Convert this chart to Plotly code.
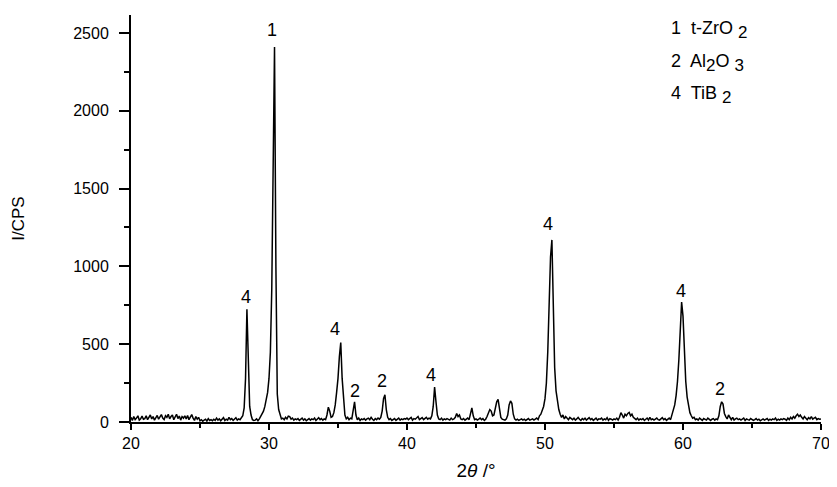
import numpy as np
import plotly.graph_objects as go

# 2theta grid: 20.0 .. 70.0 in 0.1 degree steps
two_theta_start = 20.0
two_theta_step = 0.1

# Intensity (CPS), one row per degree (x.0 ... x.9)
intensity = [
    30, 10, 35, 15, 25, 40, 12, 20, 38, 18,        # 20
    22, 40, 15, 30, 45, 20, 35, 12, 28, 42,        # 21
    18, 30, 48, 25, 15, 40, 30, 50, 20, 35,        # 22
    45, 15, 30, 50, 22, 38, 12, 35, 25, 40,        # 23
    20, 42, 15, 30, 48, 25, 10, 35, 18, 30,        # 24
    8, 15, 5, 12, 18, 6, 22, 10, 15, 8,            # 25
    18, 10, 25, 12, 20, 8, 15, 28, 10, 18,         # 26
    12, 30, 15, 22, 10, 18, 28, 12, 20, 15,        # 27
    25, 40, 90, 280, 725, 320, 100, 45, 15, 10,    # 28
    12, 20, 8, 20, 35, 50, 70, 100, 140, 190,      # 29
    280, 450, 850, 1500, 2410, 1000, 180, 80, 40, 20,  # 30
    25, 15, 30, 20, 38, 35, 18, 25, 12, 20,        # 31
    15, 22, 10, 18, 25, 12, 20, 8, 15, 22,         # 32
    12, 20, 15, 25, 10, 18, 28, 15, 22, 12,        # 33
    20, 15, 45, 95, 70, 30, 35, 60, 110, 190,      # 34
    280, 420, 510, 280, 140, 45, 20, 30, 15, 25,   # 35
    20, 70, 130, 45, 15, 25, 10, 20, 15, 22,       # 36
    12, 20, 25, 15, 30, 18, 10, 22, 15, 25,        # 37
    18, 30, 70, 150, 175, 80, 30, 15, 22, 10,      # 38
    15, 22, 10, 18, 25, 12, 20, 15, 22, 18,        # 39
    25, 15, 20, 30, 12, 22, 18, 25, 35, 15,        # 40
    20, 28, 15, 22, 30, 18, 25, 20, 40, 100,       # 41
    225, 130, 45, 20, 15, 25, 12, 20, 15, 22,      # 42
    18, 12, 25, 15, 20, 30, 55, 35, 45, 20,        # 43
    15, 22, 12, 18, 25, 15, 50, 90, 40, 15,        # 44
    20, 12, 18, 25, 15, 22, 10, 18, 35, 55,        # 45
    80, 70, 40, 45, 80, 130, 145, 75, 30, 18,      # 46
    15, 12, 20, 45, 110, 135, 120, 50, 20, 12,     # 47
    18, 10, 15, 20, 12, 18, 10, 15, 22, 12,        # 48
    15, 20, 12, 18, 25, 15, 40, 50, 70, 100,       # 49
    150, 250, 450, 800, 1060, 1170, 750, 350, 200, 130,  # 50
    80, 50, 30, 45, 20, 35, 25, 15, 30, 20,        # 51
    15, 25, 12, 20, 30, 18, 10, 22, 15, 25,        # 52
    12, 20, 28, 15, 22, 10, 18, 25, 12, 20,        # 53
    18, 25, 12, 20, 15, 28, 10, 22, 18, 12,        # 54
    20, 15, 25, 12, 30, 60, 45, 25, 50, 40,        # 55
    55, 62, 40, 50, 30, 20, 15, 25, 12, 20,        # 56
    15, 22, 10, 18, 25, 12, 30, 15, 20, 12,        # 57
    18, 25, 15, 12, 20, 28, 15, 22, 10, 18,        # 58
    25, 15, 50, 70, 110, 170, 260, 400, 580, 770,  # 59
    680, 420, 260, 160, 100, 60, 40, 25, 30, 15,   # 60
    20, 12, 25, 15, 10, 22, 18, 12, 25, 15,        # 61
    10, 18, 22, 12, 20, 15, 40, 100, 130, 115,     # 62
    55, 35, 20, 45, 25, 15, 30, 12, 20, 25,        # 63
    15, 20, 12, 18, 25, 10, 20, 15, 12, 22,        # 64
    18, 10, 15, 22, 12, 18, 8, 15, 20, 12,         # 65
    15, 22, 10, 18, 12, 20, 15, 25, 10, 18,        # 66
    12, 20, 15, 22, 18, 10, 25, 15, 30, 20,        # 67
    35, 25, 40, 50, 35, 45, 30, 20, 35, 25,        # 68
    15, 28, 20, 35, 18, 25, 30, 15, 22, 18,        # 69
    20,                                            # 70
]
two_theta = np.round(two_theta_start + two_theta_step * np.arange(len(intensity)), 2)

# Peak labels: phase number, label position (2theta, CPS)
peak_label_text = ["4", "1", "4", "2", "2", "4", "4", "4", "2"]
peak_label_x = [28.36, 30.19, 34.81, 36.26, 38.19, 41.77, 50.2, 59.86, 62.68]
peak_label_y = [801, 2519, 596, 199, 263, 302, 1272, 842, 212]

SUB = '<sub><span style="font-size:17px">{}</span></sub>'
legend_lines = [
    "1  t-ZrO " + SUB.format("2"),
    "2  Al" + SUB.format("2") + "O " + SUB.format("3"),
    "4  TiB " + SUB.format("2"),
]

FONT = "Liberation Sans, Arial, sans-serif"

fig = go.Figure()
fig.add_trace(go.Scatter(
    x=two_theta, y=intensity, mode="lines",
    line=dict(color="black", width=1.5),
    showlegend=False, hoverinfo="skip",
))

for t, x, y in zip(peak_label_text, peak_label_x, peak_label_y):
    fig.add_annotation(x=x, y=y, xref="x", yref="y", text=t, showarrow=False,
                       font=dict(family=FONT, size=18, color="black"),
                       xanchor="center", yanchor="middle")

legend_y = [0.962, 0.881, 0.803]
for t, y in zip(legend_lines, legend_y):
    fig.add_annotation(x=0.779, y=y, xref="paper", yref="paper", text=t,
                       showarrow=False, align="left",
                       font=dict(family=FONT, size=18, color="black"),
                       xanchor="left", yanchor="middle")

# page body adds an 8px offset; the figure is sized to fit the 837x487 window
fig.update_layout(
    width=829, height=479,
    margin=dict(l=123, r=14, t=7, b=65),
    paper_bgcolor="white", plot_bgcolor="white",
    font=dict(family=FONT, color="black"),
)
fig.update_xaxes(
    range=[20, 70], showgrid=False, zeroline=False,
    showline=True, linecolor="black", linewidth=2,
    ticks="outside", ticklen=6, tickwidth=2, tickcolor="black",
    tick0=20, dtick=10,
    minor=dict(ticks="outside", ticklen=4, tickwidth=2, tickcolor="black", dtick=5),
    tickfont=dict(family=FONT, size=16, color="black"),
    title=dict(text="2<i>θ</i> /°", font=dict(family=FONT, size=19, color="black"), standoff=12),
)
fig.update_yaxes(
    range=[0, 2615], showgrid=False, zeroline=False,
    showline=True, linecolor="black", linewidth=2,
    ticks="outside", ticklen=10, tickwidth=2, tickcolor="black",
    tick0=0, dtick=500, ticklabelstandoff=7,
    minor=dict(ticks="outside", ticklen=5, tickwidth=2, tickcolor="black", dtick=250),
    tickfont=dict(family=FONT, size=16, color="black"),
    title=dict(text="I/CPS", font=dict(family=FONT, size=17, color="black"), standoff=44),
)

fig.write_html("out.html")
